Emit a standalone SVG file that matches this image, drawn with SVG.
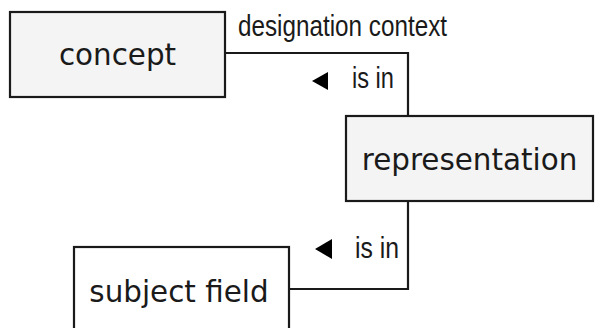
<svg xmlns="http://www.w3.org/2000/svg" width="595" height="328" viewBox="0 0 595 328">
<style>
.box{stroke:#1a1a1a;stroke-width:2.2}
.grey{fill:#f4f4f4}
.white{fill:#ffffff}
.nt{font-family:"DejaVu Sans",Verdana,sans-serif;font-size:29.4px;fill:#1a1a1a;text-anchor:middle}
.lt{font-family:"Liberation Sans Narrow","Liberation Sans",Arial,sans-serif;font-size:29px;fill:#1a1a1a}
.ln{fill:none;stroke:#1a1a1a;stroke-width:2.2}
</style>
<rect width="595" height="328" fill="#ffffff"/>
<g id="connectors">
<path class="ln" d="M225 53 H408 V116"/>
<path class="ln" d="M408 201 V289 H289"/>
<text class="lt" x="238" y="36" textLength="209" lengthAdjust="spacingAndGlyphs">designation context</text>
<polygon points="312,81 328,72 328,90" fill="#000"/>
<text class="lt" x="352" y="88" textLength="42" lengthAdjust="spacingAndGlyphs">is in</text>
<polygon points="315,249 332,239 332,259" fill="#000"/>
<text class="lt" x="355" y="258" textLength="44" lengthAdjust="spacingAndGlyphs">is in</text>
</g>
<g id="concept">
<rect class="box grey" x="10" y="12" width="215" height="85"/>
<text class="nt" x="117.5" y="65">concept</text>
</g>
<g id="representation">
<rect class="box grey" x="346" y="116" width="247" height="85"/>
<text class="nt" x="469.5" y="170">representation</text>
</g>
<g id="subject-field">
<rect class="box white" x="74" y="247" width="215" height="95"/>
<text class="nt" x="179" y="302">subject field</text>
</g>
</svg>
